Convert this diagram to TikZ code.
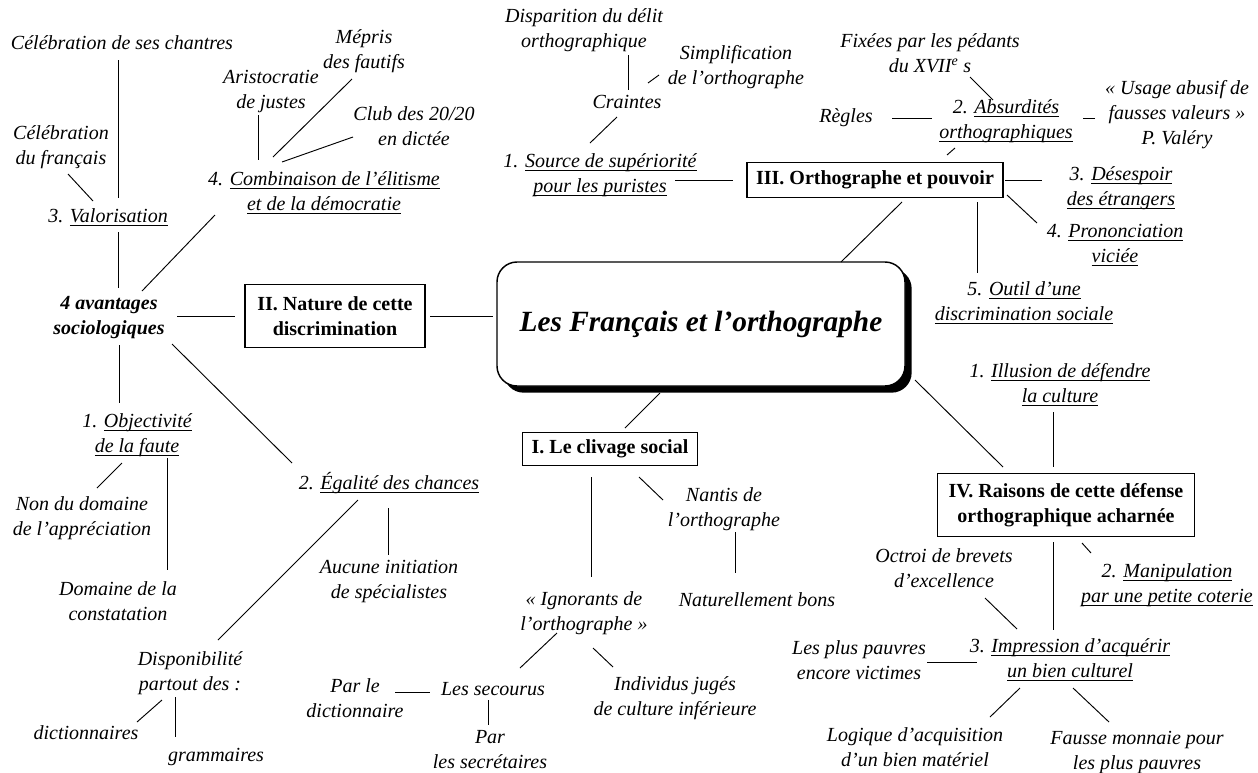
\documentclass[tikz,border=0pt]{standalone}
\usepackage{fontspec}
\setmainfont{Liberation Serif}
\usetikzlibrary{calc,shadows}

\newsavebox\ulbox
\newcommand{\uln}[1]{\sbox\ulbox{#1}\rlap{\rule[-2.6pt]{\wd\ulbox}{0.6pt}}\usebox\ulbox}

\tikzset{
  title/.style={draw, fill=white, line width=1.1pt, rounded corners=15pt,
    minimum width=306pt, minimum height=93pt,
    font=\fontsize{22}{26}\selectfont\bfseries\itshape,
    drop shadow={shadow xshift=5pt, shadow yshift=-5pt, fill=black, opacity=1}},
  part/.style={draw, fill=white, line width=0.8pt, align=center, inner sep=2pt,
    font=\fontsize{15}{18.75}\selectfont\bfseries},
}

\begin{document}
\begin{tikzpicture}[x=0.75pt,y=-0.75pt,line width=0.7pt]
\useasboundingbox (0,0) rectangle (1258,772);

% titre et grandes parties
\node[title] (T) at (701,324) {Les Français et l’orthographe};
\node[part, minimum width=131pt, minimum height=25pt] (P1) at (610,449) {I. Le clivage social};
\node[part, minimum width=135pt, minimum height=47pt] (P2) at (335,316) {II. Nature de cette\\discrimination};
\node[part, minimum width=192pt, minimum height=26pt] (P3) at (875,180) {III. Orthographe et pouvoir};
\node[part, minimum width=193pt, minimum height=47pt] (P4) at (1066,505) {IV. Raisons de cette défense\\orthographique acharnée};

\begin{scope}[every node/.style={align=center, inner sep=1pt,
    font=\fontsize{15}{18.75}\selectfont\itshape}]
% II
\node (chantres) at (122,43) {Célébration de ses chantres};
\node (celfr) at (61,147) {Célébration\\du français};
\node (valor) at (108,217) {3. \uln{Valorisation}};
\node (aristo) at (271,92) {Aristocratie\\de justes};
\node (mepris) at (364,51) {Mépris\\des fautifs};
\node (club) at (414,126) {Club des 20/20\\en dictée};
\node (combi) at (324,193) {4. \uln{Combinaison de l’élitisme}\\\uln{et de la démocratie}};
\node[font=\fontsize{15}{18.75}\selectfont\bfseries\itshape] (avant) at (109,318) {4 avantages\\sociologiques};
\node (objec) at (137,435) {1. \uln{Objectivité}\\\uln{de la faute}};
\node (nondom) at (82,518) {Non du domaine\\de l’appréciation};
\node (constat) at (118,601) {Domaine de la\\constatation};
\node (egal) at (389,483) {2. \uln{Égalité des chances}};
\node (aucune) at (389,581) {Aucune initiation\\de spécialistes};
\node (dispo) at (190,673) {Disponibilité\\partout des :};
\node (dico) at (86,733) {dictionnaires};
\node (gramm) at (216,757) {grammaires};
% I
\node (nantis) at (724,509) {Nantis de\\l’orthographe};
\node (natur) at (757,600) {Naturellement bons};
\node (ignor) at (584,613) {« Ignorants de\\l’orthographe »};
\node (secour) at (493,689) {Les secourus};
\node (indiv) at (675,698) {Individus jugés\\de culture inférieure};
\node (parle) at (355,698) {Par le\\dictionnaire};
\node (secret) at (490,750) {Par\\les secrétaires};
% III
\node (dispa) at (584,30) {Disparition du délit\\orthographique};
\node (simpl) at (736,67) {Simplification\\de l’orthographe};
\node (craint) at (627,102) {Craintes};
\node (source) at (600,175) {1. \uln{Source de supériorité}\\\uln{pour les puristes}};
\node (fixees) at (930,53) {Fixées par les pédants\\du XVII\textsuperscript{e} s};
\node (regles) at (846,118) {Règles};
\node (absurd) at (1006,121) {2. \uln{Absurdités}\\\uln{orthographiques}};
\node (usage) at (1177,115) {« Usage abusif de\\fausses valeurs »\\P. Valéry};
\node (desesp) at (1121,188) {3. \uln{Désespoir}\\\uln{des étrangers}};
\node (pronon) at (1115,245) {4. \uln{Prononciation}\\\uln{viciée}};
\node (outil) at (1024,303) {5. \uln{Outil d’une}\\\uln{discrimination sociale}};
% IV
\node (illus) at (1060,385) {1. \uln{Illusion de défendre}\\\uln{la culture}};
\node (manip) at (1167,585) {2. \uln{Manipulation}\\\uln{par une petite coterie}};
\node (octroi) at (944,568) {Octroi de brevets\\d’excellence};
\node (impress) at (1070,660) {3. \uln{Impression d’acquérir}\\\uln{un bien culturel}};
\node (pauvres) at (859,660) {Les plus pauvres\\encore victimes};
\node (logique) at (915,747) {Logique d’acquisition\\d’un bien matériel};
\node (fausse) at (1137,752) {Fausse monnaie pour\\les plus pauvres};
\end{scope}

% liens
\path ($(chantres)+(-4,17)$) edge ($(valor)+(10,-19)$);
\path ($(celfr)+(7,27)$) edge ($(valor)+(-15,-16)$);
\path ($(valor)+(10,15)$) edge ($(avant)+(9,-30)$);
\path ($(avant)+(33,-27)$) edge ($(combi)+(-109,22)$);
\path ($(aristo)+(-13,23)$) edge ($(combi)+(-66,-33)$);
\path ($(mepris)+(-12,28)$) edge ($(combi)+(-51,-36)$);
\path ($(club)+(-61,11)$) edge ($(combi)+(-42,-31)$);
\path ($(avant)+(68,-2)$) edge ($(P2)+(-100,0)$);
\path ($(P2)+(95,0)$) edge ($(T)+(-208,-8)$);
\path ($(avant)+(10,27)$) edge ($(objec)+(-18,-32)$);
\path ($(avant)+(63,26)$) edge ($(egal)+(-97,-20)$);
\path ($(objec)+(-15,28)$) edge ($(nondom)+(15,-30)$);
\path ($(objec)+(30,23)$) edge ($(constat)+(49,-31)$);
\path ($(egal)+(-31,17)$) edge ($(dispo)+(28,-33)$);
\path ($(egal)+(-1,25)$) edge ($(aucune)+(-1,-26)$);
\path ($(dispo)+(-28,27)$) edge ($(dico)+(51,-11)$);
\path ($(dispo)+(-15,24)$) edge ($(gramm)+(-41,-20)$);

\path ($(T)+(-41,69)$) edge ($(P1)+(15,-21)$);
\path ($(P1)+(-19,28)$) edge ($(ignor)+(7,-36)$);
\path ($(P1)+(29,28)$) edge ($(nantis)+(-61,-9)$);
\path ($(nantis)+(11,23)$) edge ($(natur)+(-22,-27)$);
\path ($(ignor)+(-27,20)$) edge ($(secour)+(27,-21)$);
\path ($(ignor)+(9,35)$) edge ($(indiv)+(-62,-31)$);
\path ($(parle)+(40,-6)$) edge ($(secour)+(-63,3)$);
\path ($(secour)+(-5,11)$) edge ($(secret)+(-2,-25)$);

\path ($(dispa)+(44,25)$) edge ($(craint)+(1,-12)$);
\path ($(simpl)+(-77,8)$) edge ($(craint)+(21,-19)$);
\path ($(craint)+(-10,15)$) edge ($(source)+(-10,-32)$);
\path ($(source)+(75,5)$) edge ($(P3)+(-142,0)$);
\path ($(fixees)+(40,24)$) edge ($(absurd)+(-13,-21)$);
\path ($(regles)+(46,0)$) edge ($(absurd)+(-74,-3)$);
\path ($(usage)+(-82,3)$) edge ($(absurd)+(77,-3)$);
\path ($(absurd)+(-51,27)$) edge ($(P3)+(72,-25)$);
\path ($(P3)+(130,0)$) edge ($(desesp)+(-79,-8)$);
\path ($(P3)+(132,15)$) edge ($(pronon)+(-78,-22)$);
\path ($(P3)+(27,22)$) edge ($(T)+(140,-62)$);
\path ($(P3)+(102,22)$) edge ($(outil)+(-47,-30)$);

\path ($(T)+(214,56)$) edge ($(P4)+(-63,-38)$);
\path ($(illus)+(-7,27)$) edge ($(P4)+(-13,-38)$);
\path ($(P4)+(-13,37)$) edge ($(impress)+(-17,-30)$);
\path ($(P4)+(16,38)$) edge ($(manip)+(-76,-32)$);
\path ($(octroi)+(41,30)$) edge ($(impress)+(-53,-31)$);
\path ($(pauvres)+(68,2)$) edge ($(impress)+(-93,2)$);
\path ($(impress)+(-50,28)$) edge ($(logique)+(75,-30)$);
\path ($(impress)+(3,28)$) edge ($(fausse)+(-28,-30)$);
\end{tikzpicture}
\end{document}
